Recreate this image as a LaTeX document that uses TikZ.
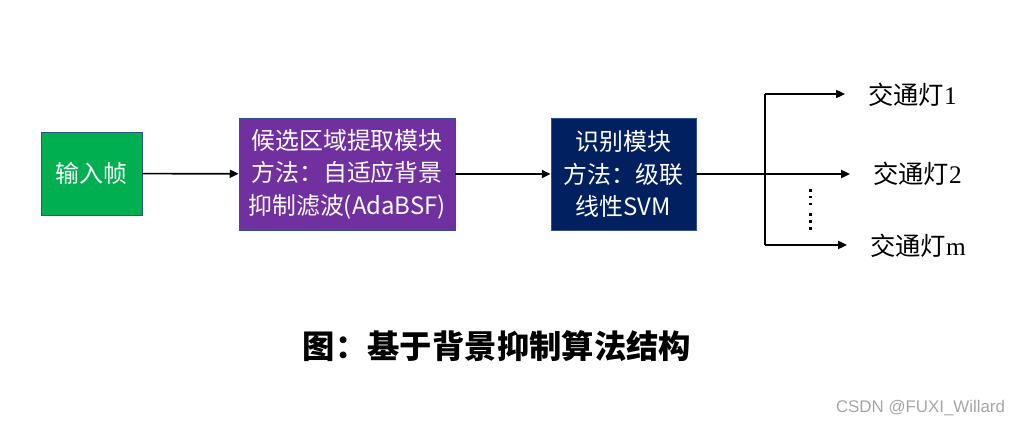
\documentclass[tikz,border=0pt]{standalone}
\usepackage{fontspec}
\setmainfont{Liberation Serif}
\setsansfont{Liberation Sans}
\newfontfamily\cjk{Noto Sans CJK SC}
\usetikzlibrary{positioning, arrows.meta}

\tikzset{
  block/.style={draw={rgb,255:red,47;green,82;blue,143}, line width=0.6pt, text=white, align=center,
    font=\cjk\fontsize{17}{23}\selectfont, inner sep=0pt},
  light/.style={anchor=west, inner xsep=0.575cm, inner ysep=0pt, font=\fontsize{18}{20}\selectfont},
  flow/.style={-{Triangle[length=0.22cm, width=0.2cm]}, line width=1.2pt}
}

\begin{document}
\begin{tikzpicture}[x=0.025cm, y=-0.025cm]
    \useasboundingbox (0,0) rectangle (1022,426);

    % the three blocks
    \node[block, fill={rgb,255:red,0;green,176;blue,80}, minimum width=2.525cm, minimum height=2.075cm]
        (frame) at (91.5,173.5) {输入帧};
    \node[block, fill={rgb,255:red,112;green,48;blue,160}, minimum width=5.4cm, minimum height=2.8cm]
        (cand) at (347,174) {候选区域提取模块\\方法：自适应背景\\抑制滤波(AdaBSF)};
    \node[block, fill={rgb,255:red,0;green,32;blue,96}, minimum width=3.625cm, minimum height=2.8cm]
        (svm) at (623.5,174) {识别模块\\方法：级联\\线性SVM};

    % outputs
    \node[light] (l1) at (845,95) {{\cjk 交通灯}1};
    \node[light] (l2) at (850,174) {{\cjk 交通灯}2};
    \node[light] (lm) at (847,246) {{\cjk 交通灯}m};

    % the dots between the outputs
    \foreach \y in {190.7,197,204,214.7,221.3,228.3}
        \fill (809.3,\y-1.4) rectangle (812.1,\y+1.4);

    \coordinate (top) at (765,94);
    \coordinate (bot) at (765,245);

    \draw[flow] (frame) -- (cand);
    \draw[flow] (cand) -- (svm);
    \draw[flow] (svm.east) -- (svm.east -| l2.west);
    \draw[line width=1.2pt] (top) -- (bot);
    \draw[flow] (top) -- (top -| l1.west);
    \draw[flow] (bot) -- (bot -| lm.west);

    % caption
    \node[font=\cjk\bfseries\fontsize{23}{26}\selectfont] (cap) at (497,346) {图：基于背景抑制算法结构};
    \node[text=black!35, font=\sffamily\fontsize{12}{14}\selectfont, anchor=east] (mark) at (1010,408) {CSDN @FUXI\_Willard};
\end{tikzpicture}
\end{document}
